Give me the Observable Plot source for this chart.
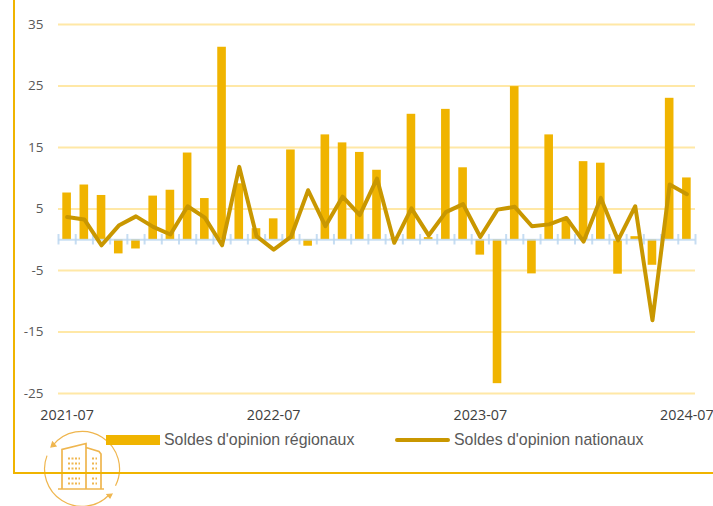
<!DOCTYPE html>
<html><head><meta charset="utf-8">
<script src="https://cdn.jsdelivr.net/npm/d3@7"></script>
<script src="https://cdn.jsdelivr.net/npm/@observablehq/plot@0.6"></script>
<style>
html,body{margin:0;padding:0;background:#fff}
#wrap{position:relative;width:713px;height:506px;overflow:hidden}
#frame{position:absolute;left:13px;top:-3px;width:703px;height:475px;border-left:2px solid #f0b400;border-bottom:2px solid #f0b400;box-sizing:content-box}
#chart{position:absolute;left:0;top:0}
.leg{position:absolute;top:431px;font:15.9px "Liberation Sans",Arial,sans-serif;color:#595959;line-height:18px;white-space:nowrap}
.sw{position:absolute}
#icon{position:absolute;left:40px;top:428px}
</style></head><body>
<div id="wrap">
<svg id="icon" width="84" height="78" viewBox="40 428 84 78" fill="none" stroke="#efb64f" stroke-width="1.2">
<path d="M52.400 445.900A37.500 37.500 0 0 1 115.500 485.800M109 495A37.500 37.500 0 0 1 47 455.600"/>
<path d="M51 447l1.500-5 3.500 4zM112 494l-5 .5 3 3.500z" fill="#efb64f"/>
<g stroke-width="1.7"><path d="M62 489V449.500L86 443.500V489M86 447.500L99 451.500L101 454V489M58 489H104"/></g>
<g stroke-width="2" stroke-dasharray="2 1.500"><path d="M68 458.500H80M68 463.500H80M68 468.500H80M68 478.500H80M68 483.500H80M92 458.500H97M92 463.500H97M92 468.500H97M92 478.500H97M92 483.500H97"/></g>
</svg>
<div id="frame"></div><div id="chart"></div>
<div class="sw" style="left:106px;top:435px;width:54px;height:10px;background:#f0b400"></div>
<div class="leg" style="left:164px">Soldes d'opinion régionaux</div>
<div class="sw" style="left:395px;top:438px;width:55px;height:4px;border-radius:2px;background:#c99700"></div>
<div class="leg" style="left:454px">Soldes d'opinion nationaux</div>
</div>
<script>
const months = ["2021-07","2021-08","2021-09","2021-10","2021-11","2021-12","2022-01","2022-02","2022-03","2022-04","2022-05","2022-06","2022-07","2022-08","2022-09","2022-10","2022-11","2022-12","2023-01","2023-02","2023-03","2023-04","2023-05","2023-06","2023-07","2023-08","2023-09","2023-10","2023-11","2023-12","2024-01","2024-02","2024-03","2024-04","2024-05","2024-06","2024-07"];
const regional = [7.6,8.9,7.2,-2.3,-1.5,7.1,8.05,14.1,6.7,31.3,9.1,1.8,3.4,14.6,-1.05,17.05,15.75,14.2,11.3,0.1,20.4,0.35,21.2,11.7,-2.5,-23.4,24.9,-5.55,17.05,3.2,12.7,12.45,-5.6,0.5,-4.15,23,10.05];
const national = [3.7,3.3,-0.9,2.3,3.8,2.1,0.85,5.45,3.6,-0.9,11.85,0.6,-1.6,0.45,8.05,2.2,7,4,9.95,-0.5,5.1,0.7,4.5,5.8,0.45,4.9,5.35,2.2,2.5,3.55,-0.3,6.8,-0.1,5.45,-13.1,9,7.4];
const yTicks = [-25,-15,-5,5,15,25,35];
const xTicks = ["2021-07","2022-07","2023-07","2024-07"];
const rows = months.map((m,i)=>({m,r:regional[i],n:national[i]}));
const step = 637/37;
const chart = Plot.plot({
  width:713,height:506,marginLeft:58,marginRight:18,marginTop:24,marginBottom:113,
  style:{background:"transparent",overflow:"visible"},
  x:{type:"band",domain:months,paddingInner:0.5,paddingOuter:0.25,round:false,label:null},
  y:{domain:[-25,35],label:null},
  marks:[
    Plot.gridY(yTicks,{stroke:"#ffe8a6",strokeOpacity:1,strokeWidth:2}),
    Plot.barY(rows,{x:"m",y1:0,y2:"r",fill:"#f0b400"}),
    Plot.ruleX(months,{x:d=>d,y1:-0.85,y2:0.85,dx:-step/2,stroke:"#bcd7f0",strokeOpacity:0.85,strokeWidth:2}),
    Plot.ruleX(months.slice(-1),{x:d=>d,y1:-0.85,y2:0.85,dx:step/2,stroke:"#bcd7f0",strokeOpacity:0.85,strokeWidth:2}),
    Plot.ruleY([0],{stroke:"#bcd7f0",strokeOpacity:0.8,strokeWidth:2}),
    Plot.line(rows,{x:"m",y:"n",stroke:"#c99700",strokeWidth:4,strokeLinejoin:"round",strokeLinecap:"round"}),
    Plot.axisY(yTicks,{tickSize:0,tickPadding:15,label:null,fontSize:13.5,fontFamily:"Open Sans",color:"#595959",tickFormat:d=>String(d)}),
    Plot.axisX(xTicks,{tickSize:0,tickPadding:16,label:null,fontSize:14.3,fontFamily:"Open Sans",color:"#404040"})
  ]
});
document.getElementById("chart").appendChild(chart);
</script></body></html>
